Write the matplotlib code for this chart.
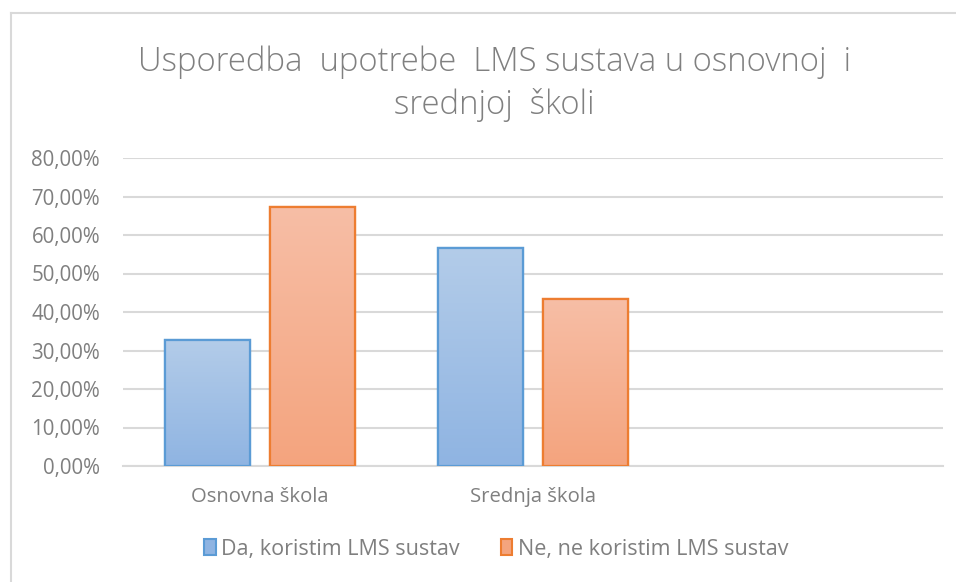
import matplotlib
matplotlib.use("Agg")
import matplotlib.pyplot as plt
import numpy as np
from matplotlib.lines import Line2D
from matplotlib.colors import LinearSegmentedColormap

plt.rcParams['font.family'] = ['Open Sans', 'DejaVu Sans']

categories = ["Osnovna škola", "Srednja škola", ""]
series_names = ["Da, koristim LMS sustav", "Ne, ne koristim LMS sustav"]
da_values = [0.327, 0.566, None]
ne_values = [0.673, 0.434, None]
yticks = [0.0, 0.1, 0.2, 0.3, 0.4, 0.5, 0.6, 0.7, 0.8]
title_lines = ["Usporedba  upotrebe  LMS sustava u osnovnoj  i", "srednjoj  školi"]

edge_colors = ["#5b9bd5", "#ed7d31"]
grad = [("#b3cce9", "#8fb4e2"), ("#f7bea6", "#f4a47e")]

W, H = 956, 582
fig = plt.figure(figsize=(W / 100, H / 100), dpi=100)
ax = fig.add_axes([123 / W, 1 - 466 / H, (943 - 123) / W, (466 - 158) / H])

x = np.arange(len(categories))
width = 0.31
offset = 0.192
series = [da_values, ne_values]
for i, vals in enumerate(series):
    xs = [xi + (-offset if i == 0 else offset) for xi, v in zip(x, vals) if v is not None]
    vs = [v for v in vals if v is not None]
    bars = ax.bar(xs, vs, width=width, facecolor=grad[i][1], edgecolor=edge_colors[i],
                  linewidth=1.6, zorder=3, label=series_names[i])
    cmap = LinearSegmentedColormap.from_list("g%d" % i, [grad[i][1], grad[i][0]])
    for b in bars:
        bx, by = b.get_x(), b.get_y()
        bw, bh = b.get_width(), b.get_height()
        img = ax.imshow(np.linspace(0, 1, 256).reshape(-1, 1), cmap=cmap, origin="lower",
                        extent=[bx, bx + bw, by, by + bh], aspect="auto", zorder=3.5,
                        interpolation="bilinear")
        img.set_clip_path(b)
        ax.bar(bx + bw / 2, bh, width=bw, bottom=by, facecolor="none",
               edgecolor=edge_colors[i], linewidth=1.6, zorder=4)

ax.set_xlim(-0.5, 2.5)
ax.set_ylim(0, 0.8)
ax.set_yticks(yticks)
ax.set_yticklabels([("%.2f%%" % (t * 100)).replace(".", ",") for t in yticks])
ax.set_xticks(x)
ax.set_xticklabels(categories)
ax.tick_params(axis="y", length=0, pad=16.5, labelsize=14.8, labelcolor="#7f7f7f")
ax.tick_params(axis="x", length=0, pad=15, labelsize=14.6, labelcolor="#7f7f7f")
ax.grid(axis="y", color="#d9d9d9", linewidth=1.5, zorder=0)
ax.set_axisbelow(True)
for s in ["top", "right", "left"]:
    ax.spines[s].set_visible(False)
ax.spines["bottom"].set_color("#d9d9d9")
ax.spines["bottom"].set_linewidth(1.5)

fig.text(494 / W, 1 - 71 / H, title_lines[0], ha="center", va="baseline", fontsize=23.7,
         color="#808080", fontweight="light")
fig.text(494 / W, 1 - 114 / H, title_lines[1], ha="center", va="baseline", fontsize=23.7,
         color="#808080", fontweight="light")

fig.legend(handles=[plt.Rectangle((0, 0), 1, 1, facecolor=grad[i][1], edgecolor=edge_colors[i], linewidth=1.5)
                    for i in range(2)],
           labels=series_names, loc="center", bbox_to_anchor=(496 / W, 1 - 549 / H),
           ncol=2, frameon=False, fontsize=15.5, labelcolor="#7f7f7f",
           handlelength=0.55, handleheight=0.8, handletextpad=0.25, columnspacing=1.9)

fig.add_artist(Line2D([11 / W, 11 / W], [0, 1 - 13 / H], color="#d9d9d9", linewidth=1.5))
fig.add_artist(Line2D([11 / W, 1], [1 - 13 / H, 1 - 13 / H], color="#d9d9d9", linewidth=1.5))

fig.savefig("out.png", dpi=100)
